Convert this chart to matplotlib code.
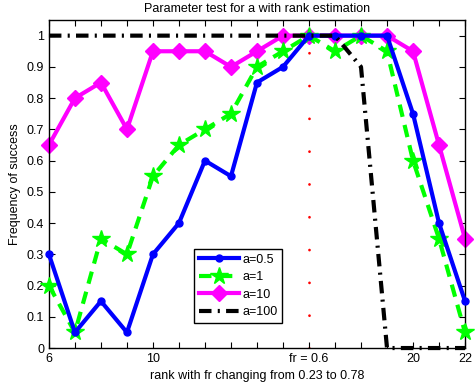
import numpy as np
import matplotlib
matplotlib.use('Agg')
import matplotlib.pyplot as plt

plt.rcParams['font.family'] = ['Liberation Sans', 'DejaVu Sans']

ranks = np.arange(6, 23)
succ_a05 = [0.3, 0.05, 0.15, 0.05, 0.3, 0.4, 0.6, 0.55, 0.85, 0.9, 1.0, 1.0, 1.0, 1.0, 0.75, 0.4, 0.15]
succ_a1 = [0.2, 0.05, 0.35, 0.3, 0.55, 0.65, 0.7, 0.75, 0.9, 0.95, 1.0, 0.95, 1.0, 0.95, 0.6, 0.35, 0.05]
succ_a10 = [0.65, 0.8, 0.85, 0.7, 0.95, 0.95, 0.95, 0.9, 0.95, 1.0, 1.0, 1.0, 1.0, 1.0, 0.95, 0.65, 0.35]
succ_a100 = [1.0, 1.0, 1.0, 1.0, 1.0, 1.0, 1.0, 1.0, 1.0, 1.0, 1.0, 1.0, 0.9, 0.0, 0.0, 0.0, 0.0]
fr_rank = 16
xtick_pos = [6, 10, 16, 20, 22]
xtick_labels = ['6', '10', 'fr = 0.6', '20', '22']

fig = plt.figure(figsize=(4.75, 3.85), dpi=100)
ax = fig.add_axes([0.103, 0.096, 0.876, 0.852])

# red dotted marker for fr = 0.6
ax.plot([fr_rank, fr_rank], [0, 1.05], color='red', lw=2,
        linestyle=(0, (0.01, 11.8)), dash_capstyle='round', zorder=1)

ax.plot(ranks, succ_a05, '-o', color='blue', lw=3, ms=5, label='a=0.5', clip_on=False, zorder=4)
ax.plot(ranks, succ_a1, '--*', color='#00ff00', lw=3, ms=13, dashes=(3, 2), label='a=1', clip_on=False, zorder=3)
ax.plot(ranks, succ_a10, '-D', color='magenta', lw=3, ms=8, label='a=10', clip_on=False, zorder=2)
ax.plot(ranks, succ_a100, color='black', lw=3, linestyle=(0, (3, 1.5, 0.5, 1.5)),
        label='a=100', clip_on=False, zorder=5)

ax.set_xlim(6, 22)
ax.set_ylim(0, 1.05)
ax.set_xticks(xtick_pos)
ax.set_xticklabels(xtick_labels)
ax.set_xticks(ranks, minor=True)
ax.set_yticks(np.arange(0, 1.01, 0.1))
ax.set_yticklabels(['0'] + ['%.1f' % v for v in np.arange(0.1, 0.95, 0.1)] + ['1'])
ax.tick_params(which='both', direction='in', top=True, right=True, labelsize=9, width=0.8)
ax.tick_params(which='major', length=4)
ax.tick_params(which='minor', length=4)
for s in ax.spines.values():
    s.set_linewidth(1.0)

ax.set_title('Parameter test for a with rank estimation', fontsize=9)
ax.set_xlabel('rank with fr changing from 0.23 to 0.78', fontsize=9)
ax.set_ylabel('Frequency of success', fontsize=9)

leg = ax.legend(loc='lower left', bbox_to_anchor=(0.334, 0.058), fontsize=9,
                fancybox=False, framealpha=1, edgecolor='black', borderpad=0.35,
                labelspacing=0.45, handlelength=3.2, handletextpad=0.3)
leg.get_frame().set_linewidth(1.0)

fig.savefig('out.png', dpi=100)
